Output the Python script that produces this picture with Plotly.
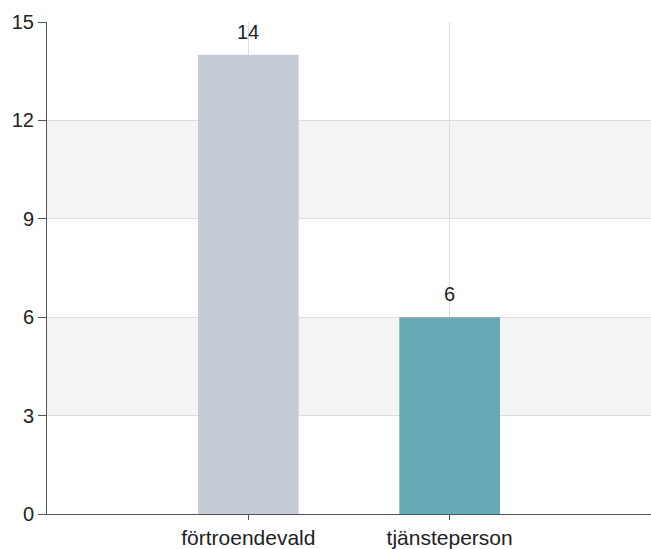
import plotly.graph_objects as go

categories = ["förtroendevald", "tjänsteperson"]
values = [14, 6]
colors = ["#c5ccd8", "#68a9b5"]
y_ticks = [0, 3, 6, 9, 12, 15]
bands = [(3, 6), (9, 12)]

fig = go.Figure()
fig.add_trace(go.Bar(
    x=categories, y=values, marker_color=colors, width=0.5,
    marker_line_width=0, hoverinfo="skip"
))

for lo, hi in bands:
    fig.add_shape(type="rect", xref="paper", yref="y", x0=0, x1=1, y0=lo, y1=hi,
                  fillcolor="#f4f4f4", line_width=0, layer="below")

for c, v in zip(categories, values):
    fig.add_annotation(x=c, y=v, text=str(v), showarrow=False, yshift=23,
                       yanchor="middle", font=dict(size=20, color="#222"))

fig.update_layout(
    width=651, height=549,
    margin=dict(l=47, r=0, t=22, b=32, pad=0),
    paper_bgcolor="white", plot_bgcolor="rgba(0,0,0,0)",
    font=dict(family="Liberation Sans, Arial, sans-serif", color="#222"),
    showlegend=False, bargap=0.5,
)
fig.update_xaxes(
    range=[-1, 2], showgrid=True, gridcolor="#dddddd", gridwidth=1,
    showline=True, linecolor="#555", linewidth=1,
    ticks="outside", ticklen=5, tickcolor="#555",
    tickfont=dict(size=21, color="#222"), fixedrange=True,
)
fig.update_yaxes(
    range=[0, 15], tickvals=y_ticks, showgrid=True, gridcolor="#dddddd", gridwidth=1,
    zeroline=False, showline=True, linecolor="#555", linewidth=1,
    ticks="outside", ticklen=8, tickcolor="#555",
    tickfont=dict(size=20, color="#222"), fixedrange=True,
)

fig.write_html(
    "out.html",
    config={"displayModeBar": False, "responsive": False},
    post_script="document.body.style.margin='0';document.body.style.overflow='hidden';",
)
